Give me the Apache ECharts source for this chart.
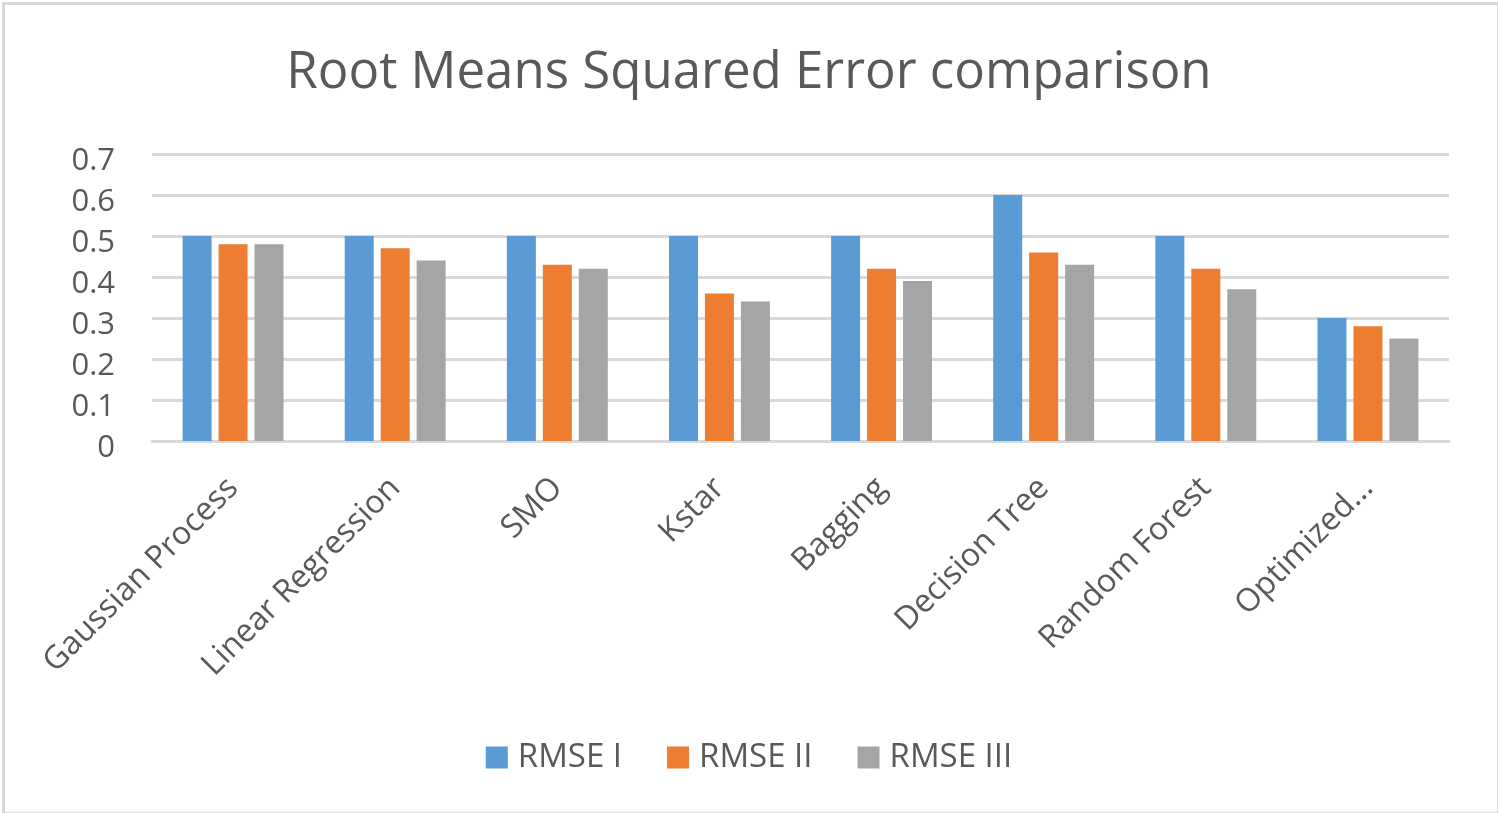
<!DOCTYPE html>
<html>
<head>
<meta charset="utf-8">
<script src="https://cdn.jsdelivr.net/npm/echarts@6/dist/echarts.min.js"></script>
<style>
html,body{margin:0;padding:0;background:#fff;}
#chart{width:1498px;height:813px;}
</style>
</head>
<body>
<div id="chart"></div>
<script>
const categories = ["Gaussian Process","Linear Regression","SMO","Kstar","Bagging","Decision Tree","Random Forest","Optimized..."];
const rmse1 = [0.5,0.5,0.5,0.5,0.5,0.6,0.5,0.3];
const rmse2 = [0.48,0.47,0.43,0.36,0.42,0.46,0.42,0.28];
const rmse3 = [0.48,0.44,0.42,0.34,0.39,0.43,0.37,0.25];
const seriesNames = ["RMSE I","RMSE II","RMSE III"];
const colors = ["#5b9bd5","#ed7d31","#a5a5a5"];

const font = "'Open Sans', 'Noto Sans', sans-serif";
const chart = echarts.init(document.getElementById('chart'), null, {renderer:'canvas'});
const mk = (name, data, color) => ({
  name, type:'bar', data, barWidth:29, barGap:'24%',
  itemStyle:{color}, emphasis:{disabled:true}
});
chart.setOption({
  animation:false,
  backgroundColor:'#fff',
  graphic:[{type:'rect', left:1, top:1, shape:{width:1495, height:810}, style:{fill:'none', stroke:'#d9d9d9', lineWidth:3}, silent:true}],
  title:{
    text:'Root Means Squared Error comparison',
    left:'center', top:43,
    textStyle:{fontFamily:font, fontSize:51, fontWeight:'normal', color:'#595959'}
  },
  legend:{
    data:seriesNames, top:736, left:'center',
    itemWidth:22, itemHeight:22, itemGap:45, icon:'rect',
    textStyle:{fontFamily:font, fontSize:33, color:'#595959', padding:[0,0,0,5]}
  },
  grid:{left:152, right:49, top:154, bottom:372, containLabel:false},
  xAxis:{
    type:'category', data:categories,
    axisLine:{show:true, lineStyle:{color:'#d9d9d9', width:3}},
    axisTick:{show:false},
    axisLabel:{rotate:45, interval:0, margin:42, fontFamily:font, fontSize:32, color:'#595959'}
  },
  yAxis:{
    type:'value', min:0, max:0.7, interval:0.1,
    axisLine:{show:false}, axisTick:{show:false},
    splitLine:{lineStyle:{color:'#d9d9d9', width:3}},
    axisLabel:{margin:37, color:'#595959',
      formatter:v=>'{a|'+(v===0?'0':v.toFixed(1))+'}',
      rich:{a:{fontFamily:font, fontSize:31, color:'#595959', padding:[14,0,0,0]}}}
  },
  series:[mk(seriesNames[0], rmse1, colors[0]), mk(seriesNames[1], rmse2, colors[1]), mk(seriesNames[2], rmse3, colors[2])]
});
</script>
</body>
</html>
